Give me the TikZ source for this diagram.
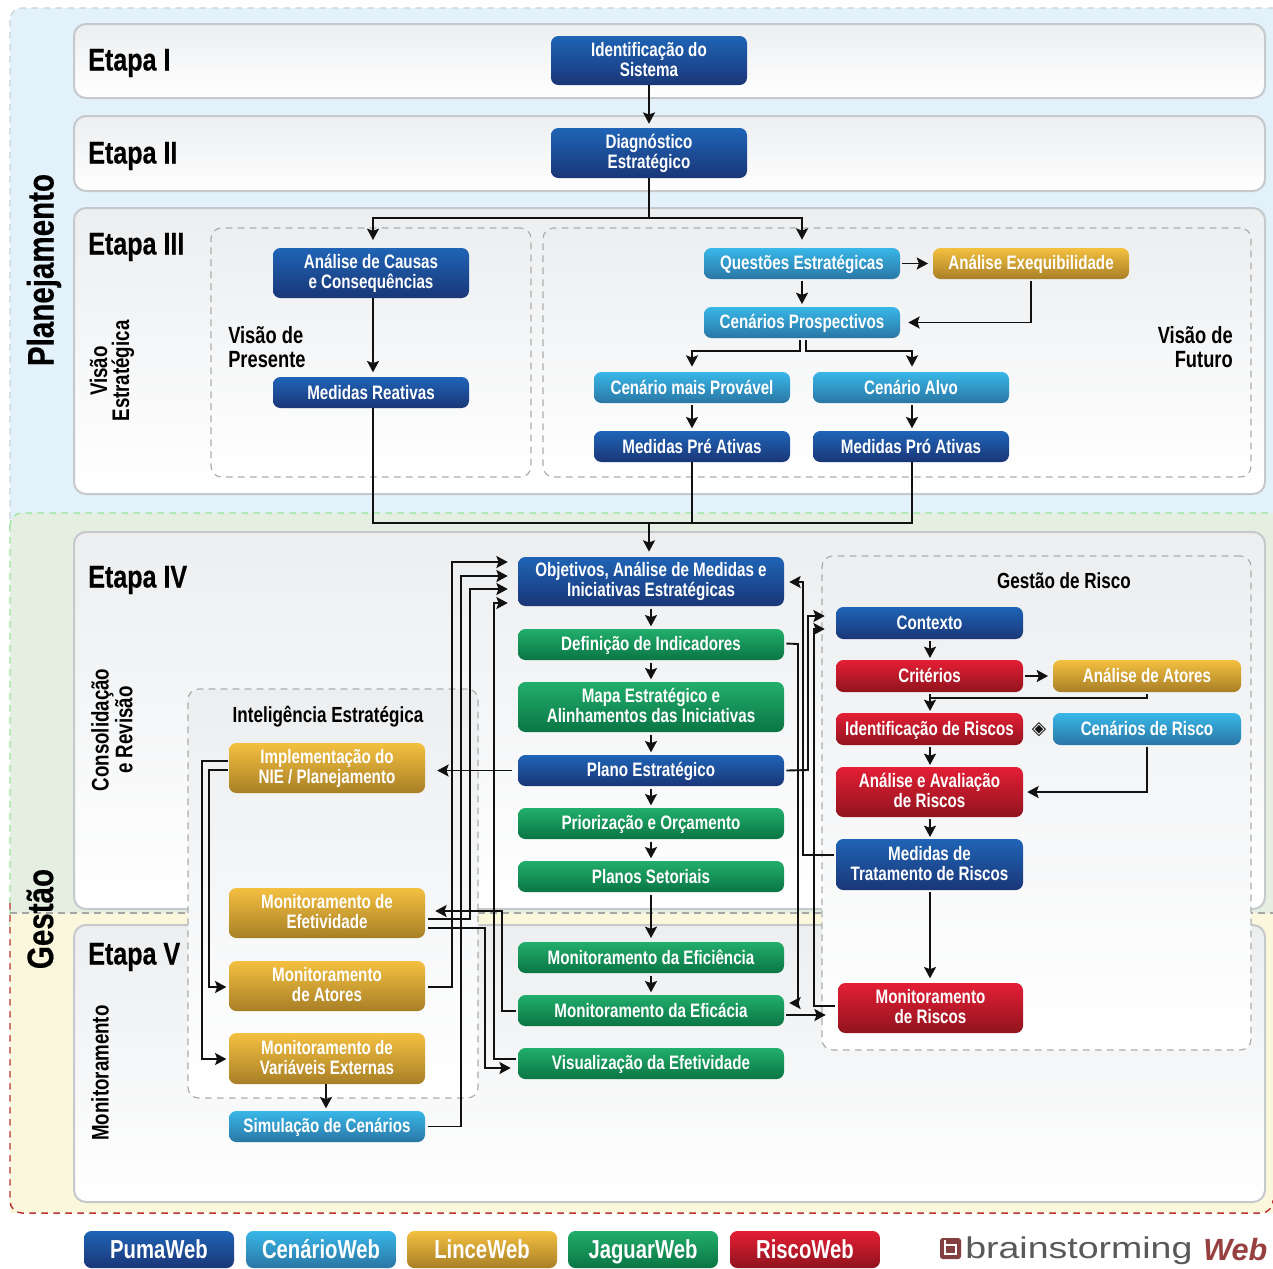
\documentclass[tikz,border=0pt]{standalone}
\usepackage{fontspec}
\setmainfont{Liberation Sans}
\newfontfamily\cond[FakeStretch=0.78]{Liberation Sans}
\newfontfamily\headf[FakeStretch=0.8,BoldFeatures={FakeStretch=0.8,FakeBold=0.35}]{Liberation Sans}
\newfontfamily\logof[FakeStretch=1.25]{Liberation Sans}
\newfontfamily\symf{DejaVu Sans}
\usetikzlibrary{arrows.meta,calc}
\definecolor{ink}{HTML}{111111}
\definecolor{panelline}{HTML}{C6C9CB}
\definecolor{panelgrey}{HTML}{ECEEF0}
\definecolor{BT}{HTML}{1F64B6}\definecolor{BB}{HTML}{1A3677}
\definecolor{GT}{HTML}{22AE6C}\definecolor{GB}{HTML}{0A7544}
\definecolor{YT}{HTML}{F4C040}\definecolor{YB}{HTML}{A87F26}
\definecolor{CT}{HTML}{38B7E8}\definecolor{CB}{HTML}{2A76A4}
\definecolor{RT}{HTML}{E41E35}\definecolor{RB}{HTML}{90141D}
\definecolor{bandblue}{HTML}{E2F1FA}
\definecolor{bandgreen}{HTML}{E4EFE2}
\definecolor{bandyellow}{HTML}{FBF7DC}
\newcommand{\boxstrut}{\rule[-0.157em]{0pt}{1.027em}}
\tikzset{
  x=0.75pt,y=-0.75pt,
  boxbase/.style={inner sep=0pt,align=center,rounded corners=5.5pt,text=white,font=\cond\bfseries\fontsize{14.6}{15}\selectfont,execute at begin node=\boxstrut,execute at end node=\boxstrut},
  bluebox/.style={boxbase,top color=BT,bottom color=BB},
  greenbox/.style={boxbase,top color=GT,bottom color=GB},
  goldbox/.style={boxbase,top color=YT,bottom color=YB},
  cyanbox/.style={boxbase,top color=CT,bottom color=CB},
  redbox/.style={boxbase,top color=RT,bottom color=RB},
  legendfont/.style={font=\cond\bfseries\fontsize{19.5}{20}\selectfont},
  panel/.style={inner sep=0pt,draw=panelline,line width=1.5pt,rounded corners=9pt,top color=panelgrey,bottom color=white},
  group/.style={inner sep=0pt,draw=black!32,dashed,dash pattern=on 5pt off 4pt,line width=0.9pt,rounded corners=8pt,top color=panelgrey,bottom color=white},
  etapa/.style={anchor=west,inner sep=0pt,text=black,font=\headf\bfseries\fontsize{23.5}{24}\selectfont},
  bigside/.style={rotate=90,inner sep=0pt,text=black,font=\headf\bfseries\fontsize{27.7}{28}\selectfont},
  sidelabel/.style={rotate=90,inner sep=0pt,align=center,text=black,font=\cond\bfseries\fontsize{18}{16.5}\selectfont},
  grouptitle/.style={inner sep=0pt,align=center,text=black,font=\cond\bfseries\fontsize{16.4}{18}\selectfont},
  visao/.style={inner sep=0pt,text=black,font=\cond\bfseries\fontsize{17.6}{18}\selectfont},
  wire/.style={draw=ink,line width=1.4pt},
  arr/.style={wire,-{Stealth[length=8.5pt,width=9pt,inset=1.6pt]}},
}
\newcommand{\bx}[7]{\node[#1,minimum width={(#5-#3)*0.75pt},minimum height={(#6-#4)*0.75pt}] (#2) at ({(#3+#5)/2},{(#4+#6)/2}) {#7};}
\begin{document}
\begin{tikzpicture}
\useasboundingbox (0,0) rectangle (1273,1268);
\clip (0,0) rectangle (1273,1268);
% background bands
\filldraw[fill=bandblue,draw=cyan!30!black!25!white,dashed,dash pattern=on 5pt off 4pt,line width=0.9pt,rounded corners=9pt] (10,8) rectangle (1300,540);
\filldraw[fill=bandgreen,draw=black!25!green!40!white,dashed,dash pattern=on 5pt off 4pt,line width=0.9pt,rounded corners=9pt] (10,513) rectangle (1300,940);
\fill[fill=bandyellow] (10,913) rectangle (1300,1213);
\draw[draw=black!35,dashed,dash pattern=on 5pt off 4pt,line width=0.9pt] (10,913) -- (1300,913);
\draw[draw=red!65!black!80!white,dashed,dash pattern=on 5pt off 4pt,line width=1.1pt,rounded corners=9pt] (10,903) -- (10,1213) -- (1273,1213) -- (1273,1200);
% panels
\bx{panel}{p1}{74}{24}{1265}{98}{}
\bx{panel}{p2}{74}{116}{1265}{191}{}
\bx{panel}{p3}{74}{208}{1265}{494}{}
\bx{panel}{p4}{74}{532}{1265}{909}{}
\bx{panel}{p5}{74}{925}{1265}{1202}{}
% dashed groups
\bx{group}{gpres}{211}{228}{531}{477}{}
\bx{group}{gfut}{543}{228}{1251}{477}{}
\bx{group}{gint}{188}{689}{478}{1098}{}
\bx{group}{grisk}{822}{556}{1251}{1050}{}
% labels
\node[bigside] (lplan) at (44,270) {Planejamento};
\node[bigside] (lgest) at (40,919) {Gestão};
\node[etapa] (e1) at (88,63) {Etapa I};
\node[etapa] (e2) at (88,156) {Etapa II};
\node[etapa] (e3) at (88,247) {Etapa III};
\node[etapa] (e4) at (88,580) {Etapa IV};
\node[etapa] (e5) at (88,957) {Etapa V};
\node[sidelabel] (s3) at (112,371) {Visão\\Estratégica};
\node[sidelabel] (s4) at (112,730) {Consolidação\\e Revisão};
\node[sidelabel] (s5) at (100,1073) {Monitoramento};
\node[visao,align=left,anchor=west] (vp) at (228,347) {Visão de\\Presente};
\node[visao,align=right,anchor=east] (vf) at (1233,347) {Visão de\\Futuro};
\node[grouptitle] (tint) at (328,717) {Inteligência Estratégica};
\node[grouptitle] (trisk) at (1064,581) {Gestão de Risco};
% boxes
\bx{bluebox}{a1}{551}{36}{747}{85}{Identificação do\\Sistema}
\bx{bluebox}{a2}{551}{128}{747}{178}{Diagnóstico\\Estratégico}
\bx{bluebox}{cau}{273}{248}{469}{298}{Análise de Causas\\e Consequências}
\bx{bluebox}{rea}{273}{377}{469}{408}{Medidas Reativas}
\bx{cyanbox}{que}{704}{248}{900}{279}{Questões Estratégicas}
\bx{goldbox}{exe}{933}{248}{1129}{279}{Análise Exequibilidade}
\bx{cyanbox}{pro}{704}{307}{900}{338}{Cenários Prospectivos}
\bx{cyanbox}{pva}{594}{372}{790}{403}{Cenário mais Provável}
\bx{cyanbox}{alv}{813}{372}{1009}{403}{Cenário Alvo}
\bx{bluebox}{pre}{594}{431}{790}{462}{Medidas Pré Ativas}
\bx{bluebox}{pra}{813}{431}{1009}{462}{Medidas Pró Ativas}
\bx{bluebox}{obj}{518}{557}{784}{606}{Objetivos, Análise de Medidas e\\Iniciativas Estratégicas}
\bx{greenbox}{def}{518}{629}{784}{660}{Definição de Indicadores}
\bx{greenbox}{map}{518}{682}{784}{732}{Mapa Estratégico e\\Alinhamentos das Iniciativas}
\bx{bluebox}{pla}{518}{755}{784}{786}{Plano Estratégico}
\bx{greenbox}{pri}{518}{808}{784}{839}{Priorização e Orçamento}
\bx{greenbox}{set}{518}{861}{784}{892}{Planos Setoriais}
\bx{greenbox}{efi}{518}{942}{784}{973}{Monitoramento da Eficiência}
\bx{greenbox}{efc}{518}{995}{784}{1026}{Monitoramento da Eficácia}
\bx{greenbox}{vis}{518}{1048}{784}{1079}{Visualização da Efetividade}
\bx{goldbox}{imp}{229}{743}{425}{793}{Implementação do\\NIE / Planejamento}
\bx{goldbox}{mef}{229}{888}{425}{938}{Monitoramento de\\Efetividade}
\bx{goldbox}{mat}{229}{961}{425}{1011}{Monitoramento\\de Atores}
\bx{goldbox}{mva}{229}{1033}{425}{1084}{Monitoramento de\\Variáveis Externas}
\bx{cyanbox}{sim}{229}{1111}{425}{1142}{Simulação de Cenários}
\bx{bluebox}{ctx}{836}{607}{1023}{639}{Contexto}
\bx{redbox}{cri}{836}{660}{1023}{692}{Critérios}
\bx{goldbox}{aat}{1053}{660}{1241}{692}{Análise de Atores}
\bx{redbox}{ide}{836}{713}{1023}{745}{Identificação de Riscos}
\bx{cyanbox}{cer}{1053}{713}{1241}{745}{Cenários de Risco}
\bx{redbox}{ava}{836}{767}{1023}{817}{Análise e Avaliação\\de Riscos}
\bx{bluebox}{tra}{836}{839}{1023}{890}{Medidas de\\Tratamento de Riscos}
\bx{redbox}{mri}{838}{983}{1023}{1033}{Monitoramento\\de Riscos}
\node[inner sep=0pt,text=ink,font=\symf\fontsize{14}{14}\selectfont] (dia) at (1039,730) {◈};
% legend
\bx{bluebox,legendfont}{l1}{84}{1231}{234}{1268}{PumaWeb}
\bx{cyanbox,legendfont}{l2}{246}{1231}{396}{1268}{CenárioWeb}
\bx{goldbox,legendfont}{l3}{407}{1231}{557}{1268}{LinceWeb}
\bx{greenbox,legendfont}{l4}{568}{1231}{718}{1268}{JaguarWeb}
\bx{redbox,legendfont}{l5}{730}{1231}{880}{1268}{RiscoWeb}
% logo
\filldraw[fill=red!35!black!75!white,draw=none,rounded corners=2pt] (940,1238) rectangle (961,1259);
\draw[white,line width=1.4pt] (945,1245) rectangle (956,1254);
\draw[white,line width=1.4pt] (945,1245) -- (945,1240);
\node[anchor=west,inner sep=0pt,text=black!65,font=\logof\fontsize{22.5}{23}\selectfont] (logoa) at (965,1251) {brainstorming};
\node[anchor=west,inner sep=0pt,text=red!45!black!75!white,font=\bfseries\itshape\fontsize{23}{24}\selectfont] (logob) at (1203,1250) {Web};
% connectors: planning
\coordinate (j23) at (649,218);
\coordinate (j9) at (649,523);
\draw[arr,shorten >=3pt] (a1) -- (a2);
\draw[wire] (a2) -- (j23);
\draw[arr,shorten >=6pt] (j23) -| (373,248);
\draw[arr,shorten >=6pt] (j23) -| (que.north);
\draw[arr,shorten >=3.5pt] (373,298) -- (373,377);
\draw[arr,shorten <=1.5pt,shorten >=3.5pt] (que.east) -- (exe.west);
\draw[arr,shorten <=1.5pt,shorten >=2pt] (que.south) -- (pro.north);
\draw[arr,shorten >=6pt] ($(exe.south)+(0,2)$) |- (pro.east);
\draw[arr,shorten >=4pt] ($(pro.south)+(-2,2)$) |- (692,351) -- (692,372);
\draw[arr,shorten >=4pt] ($(pro.south)+(4,2)$) |- (912,351) -- (912,372);
\draw[arr,shorten <=1.5pt,shorten >=2pt] (692,403) -- (692,431);
\draw[arr,shorten <=1.5pt,shorten >=2pt] (912,403) -- (912,431);
\draw[wire] (373,408) |- (j9);
\draw[wire] (pre.south) -- (692,523);
\draw[wire] (912,462) |- (j9);
\draw[arr,shorten >=4pt] (j9) -- (649,557);
% connectors: central column
\draw[arr,shorten <=2pt,shorten >=2pt] (651,606) -- (651,629);
\draw[arr,shorten <=2pt,shorten >=2pt] (651,660) -- (651,682);
\draw[arr,shorten <=2pt,shorten >=2pt] (651,732) -- (651,755);
\draw[arr,shorten <=2pt,shorten >=2pt] (651,786) -- (651,808);
\draw[arr,shorten <=2pt,shorten >=2pt] (651,839) -- (651,861);
\draw[arr,shorten <=2pt,shorten >=3pt] (651,892) -- (651,942);
\draw[arr,shorten <=2pt,shorten >=2pt] (651,973) -- (651,995);
\draw[arr,shorten <=4.5pt,shorten >=9pt] (pla.west) -- (imp.east |- pla.west);
% connectors: inteligence group
\draw[arr,shorten >=1pt] ($(imp.west)+(-1,-7)$) -- (202,761) |- ($(mva.west)+(-1,0.5)$);
\draw[arr,shorten >=1pt] ($(imp.west)+(-1,2)$) -- (209,770) |- ($(mat.west)+(-1,1)$);
\draw[arr,shorten >=2pt] (326,1084) -- (326,1111);
\draw[arr] ($(mat.east)+(3,1)$) -- (452,987) |- ($(obj.west)+(-10,-19.5)$);
\draw[arr] ($(sim.east)+(3,0)$) -- (461,1126.5) |- ($(obj.west)+(-10,-5.5)$);
\draw[arr] ($(mef.east)+(3,6)$) -- (470,919) |- ($(obj.west)+(-10,7.5)$);
\draw[arr] ($(vis.west)+(-2,-4.5)$) -- (494,1059) |- ($(obj.west)+(-10,21.5)$);
\draw[arr] ($(mef.east)+(3,15)$) -- (485,928) |- ($(vis.west)+(-7,4.5)$);
\draw[arr] ($(efc.west)+(-2,0.5)$) -- (502,1011) |- ($(mef.east)+(10,-2)$);
% connectors: central to risk
\draw[arr] ($(def.east)+(2,-1)$) -- (798,644) |- ($(efc.east)+(5,-7.5)$);
\draw[arr] ($(tra.west)+(-2,-9.5)$) -- (803,855) |- ($(obj.east)+(5,0.5)$);
\draw[arr] ($(pla.east)+(2,0)$) -- (808,770) |- ($(ctx.west)+(-11,-7)$);
\draw[arr] ($(mri.west)+(-3,-2)$) -- (814,1006) |- ($(ctx.west)+(-11,6)$);
\draw[arr] ($(efc.east)+(2,4.5)$) -- ($(mri.west)+(-12,7)$);
% connectors: risk
\draw[arr,shorten <=1.5pt,shorten >=1.5pt] (930,639) -- (930,660);
\draw[arr,shorten <=1.5pt,shorten >=3.5pt] (cri.east) -- (aat.west);
\draw[arr,shorten <=1.5pt,shorten >=1.5pt] (930,692) -- (930,713);
\draw[wire] ($(aat.south)+(0,2)$) -- (1147,698) -| (930,704);
\draw[arr,shorten <=1.5pt,shorten >=1.5pt] (930,745) -- (930,767);
\draw[arr,shorten >=3pt] ($(cer.south)+(0,2)$) |- (ava.east);
\draw[arr,shorten <=1.5pt,shorten >=1.5pt] (930,817) -- (930,839);
\draw[arr,shorten <=1.5pt,shorten >=3.5pt] (930,890) -- (930,983);
\end{tikzpicture}
\end{document}
